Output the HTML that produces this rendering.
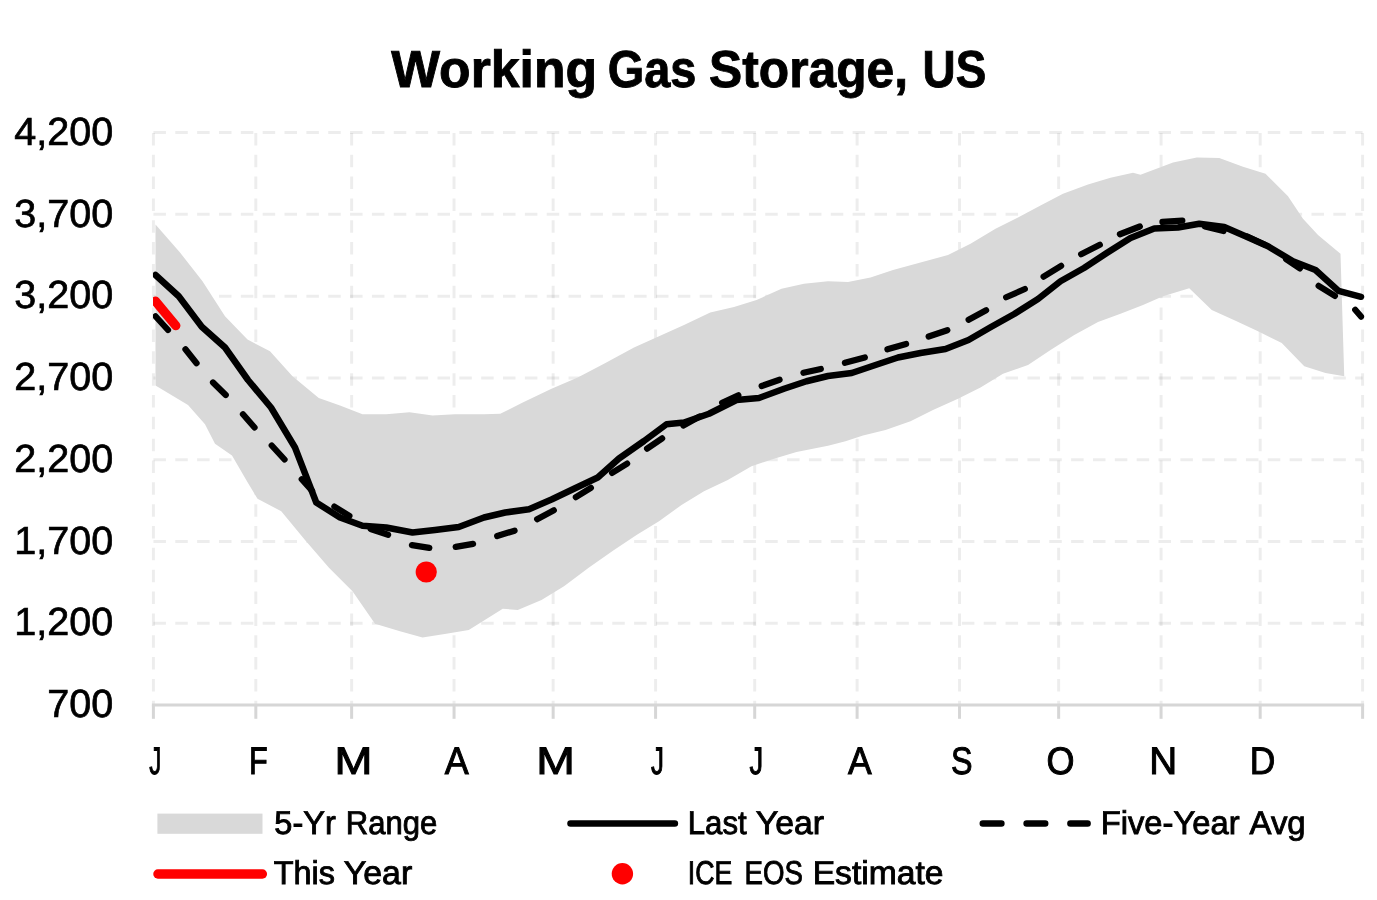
<!DOCTYPE html>
<html lang="en"><head><meta charset="utf-8"><title>Working Gas Storage, US</title>
<style>html,body{margin:0;padding:0;background:#fff}svg{display:block;will-change:transform}text{font-family:"Liberation Sans",sans-serif;fill:#000;stroke:#000;stroke-linejoin:miter;vector-effect:non-scaling-stroke;text-rendering:geometricPrecision}.ti{font-size:52.03px;font-weight:bold;stroke-width:0.9}.yl{font-size:39.28px;stroke-width:0.7}.xl{font-size:38.41px;stroke-width:1}.lg{font-size:32.90px;stroke-width:0.9}</style></head><body>
<svg width="1377" height="900" viewBox="0 0 1377 900">
<rect width="1377" height="900" fill="#fff"/>
<defs><clipPath id="plot"><rect x="153.1" y="120" width="1230" height="590"/></clipPath></defs>
<g stroke="#000" stroke-opacity="0.07" stroke-width="3" stroke-dasharray="12.55 9.3" fill="none">
<line x1="153.40" y1="132.60" x2="1362.60" y2="132.60"/>
<line x1="153.40" y1="214.37" x2="1362.60" y2="214.37"/>
<line x1="153.40" y1="296.14" x2="1362.60" y2="296.14"/>
<line x1="153.40" y1="377.91" x2="1362.60" y2="377.91"/>
<line x1="153.40" y1="459.69" x2="1362.60" y2="459.69"/>
<line x1="153.40" y1="541.46" x2="1362.60" y2="541.46"/>
<line x1="153.40" y1="623.23" x2="1362.60" y2="623.23"/>
<line x1="153.40" y1="132.9" x2="153.40" y2="705.00" stroke-dasharray="12.5 9.34"/>
<line x1="255.82" y1="132.9" x2="255.82" y2="705.00" stroke-dasharray="12.5 9.34"/>
<line x1="351.63" y1="132.9" x2="351.63" y2="705.00" stroke-dasharray="12.5 9.34"/>
<line x1="454.05" y1="132.9" x2="454.05" y2="705.00" stroke-dasharray="12.5 9.34"/>
<line x1="553.16" y1="132.9" x2="553.16" y2="705.00" stroke-dasharray="12.5 9.34"/>
<line x1="655.58" y1="132.9" x2="655.58" y2="705.00" stroke-dasharray="12.5 9.34"/>
<line x1="754.70" y1="132.9" x2="754.70" y2="705.00" stroke-dasharray="12.5 9.34"/>
<line x1="857.11" y1="132.9" x2="857.11" y2="705.00" stroke-dasharray="12.5 9.34"/>
<line x1="959.53" y1="132.9" x2="959.53" y2="705.00" stroke-dasharray="12.5 9.34"/>
<line x1="1058.65" y1="132.9" x2="1058.65" y2="705.00" stroke-dasharray="12.5 9.34"/>
<line x1="1161.07" y1="132.9" x2="1161.07" y2="705.00" stroke-dasharray="12.5 9.34"/>
<line x1="1260.18" y1="132.9" x2="1260.18" y2="705.00" stroke-dasharray="12.5 9.34"/>
<line x1="1362.60" y1="132.9" x2="1362.60" y2="705.00" stroke-dasharray="12.5 9.34"/>
</g>
<g stroke="#D6D6D6" stroke-width="3" fill="none">
<line x1="151.90" y1="705.00" x2="1364.10" y2="705.00"/>
<line x1="153.40" y1="705.00" x2="153.40" y2="718.8"/>
<line x1="255.82" y1="705.00" x2="255.82" y2="718.8"/>
<line x1="351.63" y1="705.00" x2="351.63" y2="718.8"/>
<line x1="454.05" y1="705.00" x2="454.05" y2="718.8"/>
<line x1="553.16" y1="705.00" x2="553.16" y2="718.8"/>
<line x1="655.58" y1="705.00" x2="655.58" y2="718.8"/>
<line x1="754.70" y1="705.00" x2="754.70" y2="718.8"/>
<line x1="857.11" y1="705.00" x2="857.11" y2="718.8"/>
<line x1="959.53" y1="705.00" x2="959.53" y2="718.8"/>
<line x1="1058.65" y1="705.00" x2="1058.65" y2="718.8"/>
<line x1="1161.07" y1="705.00" x2="1161.07" y2="718.8"/>
<line x1="1260.18" y1="705.00" x2="1260.18" y2="718.8"/>
<line x1="1362.60" y1="705.00" x2="1362.60" y2="718.8"/>
</g>
<polygon fill="#D9D9D9" points="155.50,224.50 180.00,252.50 202.50,281.25 225.00,316.25 247.50,339.50 270.00,351.25 292.50,376.25 318.75,398.00 340.00,405.50 362.50,414.25 386.25,414.25 409.50,412.25 432.50,415.50 455.00,414.25 484.00,414.25 500.25,413.75 522.75,402.50 551.50,388.75 577.75,377.50 604.00,363.75 634.00,347.50 659.00,336.25 684.00,325.00 710.25,312.50 734.00,307.00 756.50,300.00 781.50,288.75 804.00,283.75 828.00,281.25 848.00,282.00 870.50,277.50 893.00,270.00 920.50,262.50 948.00,255.00 970.50,243.75 995.50,228.75 1018.00,217.50 1040.50,205.50 1063.00,193.75 1088.00,184.50 1110.50,177.75 1133.00,172.75 1140.50,174.75 1173.00,162.50 1196.75,157.50 1219.25,158.00 1243.00,166.75 1265.50,173.75 1288.00,196.25 1303.00,218.75 1318.00,235.00 1340.50,253.75 1344.25,376.25 1325.50,373.00 1304.25,366.25 1281.75,343.00 1258.00,331.25 1235.50,320.75 1211.75,310.00 1189.25,288.25 1163.00,296.25 1143.00,305.00 1120.50,313.75 1098.00,322.00 1074.25,335.00 1050.50,350.00 1028.00,365.00 1003.00,373.75 980.50,387.50 958.00,398.75 933.00,410.00 910.50,421.25 885.50,430.00 863.00,435.50 845.50,441.25 828.00,445.75 796.50,452.00 774.00,458.75 751.50,466.25 727.75,480.00 704.00,491.25 681.50,505.00 659.00,521.25 636.50,535.00 614.00,550.00 589.00,567.50 564.00,586.25 541.50,600.00 517.75,610.00 502.75,608.75 484.00,620.50 468.75,630.00 446.25,633.75 422.50,637.50 400.00,631.25 375.00,623.75 352.50,591.25 328.75,567.50 305.00,540.00 281.25,511.25 257.50,498.75 247.40,482.00 232.00,455.50 215.00,443.70 205.00,424.30 188.00,405.00 155.50,385.60"/>
<g clip-path="url(#plot)">
<path fill="none" stroke="#000" stroke-width="6.5" stroke-linecap="round" stroke-linejoin="round" d="M155.50 275.00 L178.75 296.25 L201.75 326.75 L225.00 347.50 L248.00 380.00 L271.00 407.50 L295.00 447.50 L316.25 502.50 L340.00 517.50 L362.50 525.75 L386.25 527.50 L412.50 532.50 L435.00 530.00 L458.75 527.00 L484.00 517.50 L505.25 512.50 L529.00 509.25 L551.50 499.50 L574.00 488.75 L597.75 477.50 L619.00 458.50 L644.00 441.00 L666.50 424.25 L684.00 422.50 L709.00 413.75 L736.50 400.00 L759.00 398.00 L784.00 388.75 L806.50 381.25 L828.00 376.00 L851.75 373.00 L875.50 365.00 L898.00 357.50 L920.50 353.00 L945.50 349.00 L968.50 340.00 L990.50 327.25 L1014.25 314.00 L1038.00 299.00 L1060.50 281.25 L1084.00 268.00 L1106.75 253.00 L1130.50 238.00 L1154.25 228.50 L1178.00 227.50 L1199.25 223.75 L1224.25 227.00 L1245.50 236.25 L1268.00 246.25 L1293.00 261.25 L1315.50 270.00 L1338.50 290.80 L1361.00 296.80"/>
<path fill="none" stroke="#000" stroke-width="6.2" stroke-linecap="round" d="M155.50 316.25 L168.00 330.00 M185.44 349.30 L196.56 363.20 M213.00 382.49 L225.75 395.01 M242.96 414.28 L254.54 427.47 M271.72 445.52 L284.53 459.48 M301.72 479.27 L312.03 490.73 M334.35 506.62 L349.40 515.88 M370.66 528.97 L388.09 534.78 M411.94 545.11 L429.31 547.89 M455.69 546.88 L473.06 543.87 M497.17 536.04 L514.58 530.71 M537.12 519.17 L553.88 510.33 M575.85 497.13 L590.90 487.87 M612.10 472.88 L627.15 463.62 M647.08 448.61 L662.17 438.39 M683.37 425.42 L699.63 416.58 M722.14 402.71 L738.36 395.29 M761.66 386.02 L779.59 379.73 M803.43 372.85 L820.82 368.90 M844.93 362.82 L864.82 357.43 M887.42 349.31 L906.08 343.94 M928.66 336.53 L947.34 330.22 M968.62 319.67 L986.13 310.33 M1006.14 297.22 L1024.86 289.03 M1043.60 276.63 L1061.15 265.87 M1081.13 254.19 L1099.87 244.81 M1119.90 234.25 L1139.85 226.50 M1162.45 221.95 L1182.30 220.55 M1204.93 226.42 L1223.57 231.08 M1247.38 236.55 L1264.87 244.70 M1286.08 259.14 L1299.92 268.36 M1318.60 285.87 L1334.90 295.88 M1355.20 309.80 L1361.00 316.60"/>
<line x1="155.5" y1="301.2" x2="175.8" y2="325.6" stroke="#f00" stroke-width="9.3" stroke-linecap="round"/>
<circle cx="426.25" cy="572" r="10.6" fill="#f00"/>
</g>
<text class="ti" transform="translate(391.28,87.05) scale(0.9934,1)">Working</text>
<text class="ti" transform="translate(607.67,87.05) scale(0.9015,1)">Gas</text>
<text class="ti" transform="translate(709.06,87.05) scale(0.9562,1)">Storage,</text>
<text class="ti" transform="translate(922.60,87.05) scale(0.8805,1)">US</text>
<text class="yl" transform="translate(14.17,144.85) scale(1.0075,1)">4,200</text>
<text class="yl" transform="translate(14.17,226.62) scale(1.0075,1)">3,700</text>
<text class="yl" transform="translate(14.17,308.39) scale(1.0075,1)">3,200</text>
<text class="yl" transform="translate(14.17,390.16) scale(1.0075,1)">2,700</text>
<text class="yl" transform="translate(14.17,471.94) scale(1.0075,1)">2,200</text>
<text class="yl" transform="translate(14.17,553.71) scale(1.0075,1)">1,700</text>
<text class="yl" transform="translate(14.17,635.48) scale(1.0075,1)">1,200</text>
<text class="yl" transform="translate(47.15,717.25) scale(1.0075,1)">700</text>
<text class="xl" transform="translate(149.20,774.30) scale(0.6287,1)">J</text>
<text class="xl" transform="translate(248.95,774.30) scale(0.7972,1)">F</text>
<text class="xl" transform="translate(334.51,774.30) scale(1.1834,1)">M</text>
<text class="xl" transform="translate(444.78,774.30) scale(0.9350,1)">A</text>
<text class="xl" transform="translate(536.34,774.30) scale(1.2068,1)">M</text>
<text class="xl" transform="translate(650.97,774.30) scale(0.6732,1)">J</text>
<text class="xl" transform="translate(749.44,774.30) scale(0.7113,1)">J</text>
<text class="xl" transform="translate(847.98,774.30) scale(0.9232,1)">A</text>
<text class="xl" transform="translate(951.09,774.30) scale(0.8402,1)">S</text>
<text class="xl" transform="translate(1046.52,774.30) scale(0.9374,1)">O</text>
<text class="xl" transform="translate(1149.18,774.30) scale(1.0056,1)">N</text>
<text class="xl" transform="translate(1249.85,774.30) scale(0.9224,1)">D</text>
<rect x="157.4" y="813.6" width="105.1" height="20.2" fill="#D9D9D9"/>
<line x1="570.5" y1="823.6" x2="674.9" y2="823.6" stroke="#000" stroke-width="6.5" stroke-linecap="round"/>
<path d="M982.8 823.5h18.6M1026.6 823.5h18.6M1070.4 823.5h17.2" stroke="#000" stroke-width="6.5" stroke-linecap="round" fill="none"/>
<line x1="157.9" y1="874" x2="262.4" y2="874" stroke="#f00" stroke-width="9.3" stroke-linecap="round"/>
<circle cx="622.4" cy="873.8" r="10.7" fill="#f00"/>
<text class="lg" transform="translate(274.35,834.45) scale(0.9882,1)">5-Yr</text>
<text class="lg" transform="translate(345.76,834.45) scale(0.9432,1)">Range</text>
<text class="lg" transform="translate(687.75,834.45) scale(0.9474,1)">Last</text>
<text class="lg" transform="translate(755.76,834.45) scale(1.0270,1)">Year</text>
<text class="lg" transform="translate(1100.72,834.45) scale(0.9955,1)">Five-Year</text>
<text class="lg" transform="translate(1249.54,834.45) scale(1.0010,1)">Avg</text>
<text class="lg" transform="translate(273.69,884.45) scale(0.9850,1)">This</text>
<text class="lg" transform="translate(343.76,884.45) scale(1.0301,1)">Year</text>
<text class="lg" transform="translate(687.86,884.45) scale(0.8126,1)">ICE</text>
<text class="lg" transform="translate(744.55,884.45) scale(0.8399,1)">EOS</text>
<text class="lg" transform="translate(812.65,884.45) scale(1.0225,1)">Estimate</text>
</svg></body></html>
